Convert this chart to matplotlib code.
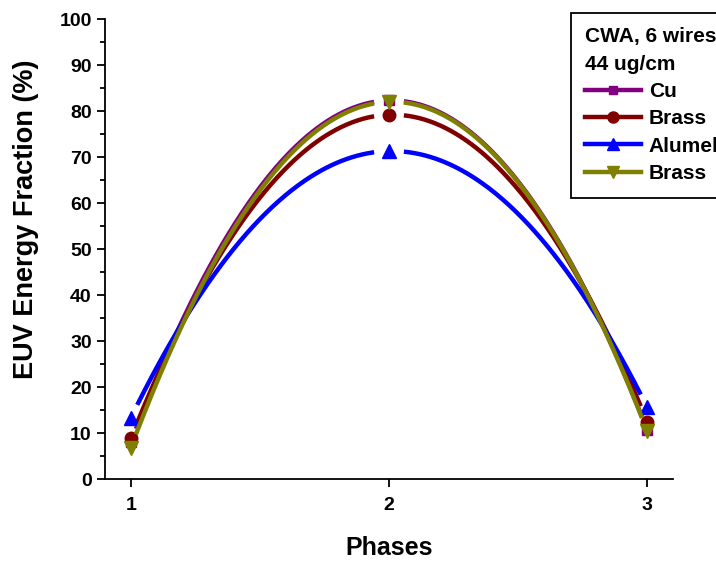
import numpy as np
import matplotlib.pyplot as plt

plt.rcParams['font.family'] = ['Liberation Sans', 'DejaVu Sans']
plt.rcParams['font.weight'] = 'bold'

# datos
fases = [1, 2, 3]
cu = [8.0, 82.3, 10.6]
brass = [8.9, 79.2, 12.5]
alumel = [13.3, 71.3, 15.6]
brass2 = [6.8, 82.0, 10.4]

series = [
    ("Cu", cu, "#800080", "s", 7),
    ("Brass", brass, "#800000", "o", 9),
    ("Alumel", alumel, "#0000ff", "^", 10),
    ("Brass", brass2, "#808000", "v", 10),
]

fig = plt.figure(figsize=(7.16, 5.61), dpi=100)
ax = fig.add_axes([0.1466, 0.146, 0.7934, 0.82])
ax.set_xlim(0.9, 3.1)
ax.set_ylim(0, 100)

# escala en pixeles para dejar huecos alrededor de los marcadores
px_x = 0.7934 * 716 / 2.2
px_y = 0.82 * 561 / 100.0

xs = np.linspace(1, 3, 400)
for nombre, vals, color, marker, ms in series:
    coef = np.polyfit(fases, vals, 2)
    ys = np.polyval(coef, xs)
    dist = np.full(xs.shape, np.inf)
    for fx, fy in zip(fases, vals):
        d = np.hypot((xs - fx) * px_x, (ys - fy) * px_y)
        dist = np.minimum(dist, d)
    ys_m = np.where(dist < 14, np.nan, ys)
    ax.plot(xs, ys_m, color=color, lw=3.2, solid_capstyle='butt')
    ax.plot(fases, vals, linestyle='none', marker=marker, ms=ms,
            color=color, mec=color)
    # entrada de leyenda
    ax.plot([], [], color=color, lw=3.2, marker=marker, ms=ms - 1, label=nombre)

ax.spines['top'].set_visible(False)
ax.spines['right'].set_visible(False)
for s in ['left', 'bottom']:
    ax.spines[s].set_linewidth(1.3)

ax.set_xticks(fases)
ax.set_yticks(np.arange(0, 101, 10))
ax.set_yticks(np.arange(5, 100, 10), minor=True)
ax.tick_params(which='major', direction='out', length=6, width=1.3, labelsize=14)
ax.tick_params(which='minor', direction='out', length=3.5, width=1.3)
ax.tick_params(axis='x', pad=7)

ax.set_xlabel('Phases', fontsize=18, fontweight='bold', labelpad=16)
ax.set_ylabel('EUV Energy Fraction (%)', fontsize=19.5, fontweight='bold')
ax.yaxis.set_label_coords(-0.117, 0.565)

leg = fig.legend(loc='upper left', bbox_to_anchor=(0.797, 0.977),
                 title='CWA, 6 wires\n44 ug/cm', alignment='left',
                 prop={'size': 15, 'weight': 'bold'},
                 title_fontproperties={'size': 15, 'weight': 'bold'},
                 handlelength=2.7, handletextpad=0.35, labelspacing=0.4,
                 borderpad=0.7, borderaxespad=0,
                 fancybox=False, framealpha=1)
leg.get_title().set_linespacing(1.55)
leg.get_frame().set_edgecolor('black')
leg.get_frame().set_linewidth(1.3)

fig.savefig('out.png', dpi=100)
